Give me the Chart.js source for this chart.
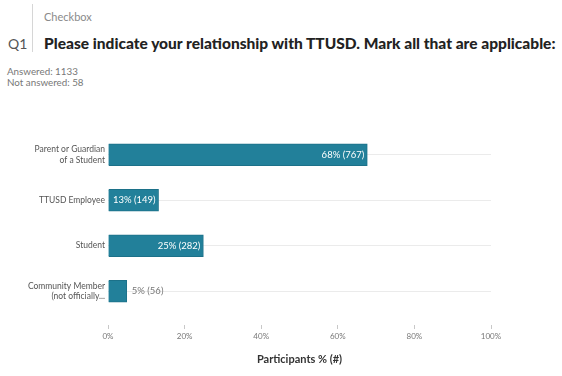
<!DOCTYPE html>
<html>
<head>
<meta charset="utf-8">
<script src="https://cdn.jsdelivr.net/npm/chart.js@4/dist/chart.umd.min.js"></script>
<style>
    body { margin: 0; width: 562px; height: 376px; background: #fff; font-family: Lato, sans-serif; position: relative; overflow: hidden; }
    .divider { position: absolute; left: 32px; top: 4px; width: 1px; height: 48px; background: #d6d6d6; }
    .kind { position: absolute; left: 44px; top: 10px; font-size: 11px; color: #8a8a8a; }
    .qnum { position: absolute; left: 8px; top: 35px; font-size: 14px; color: #555; }
    .title { position: absolute; left: 44px; top: 34px; font-size: 15.5px; font-weight: 900; color: #222; white-space: nowrap; }
    .stats { position: absolute; left: 7px; top: 66px; font-size: 9.8px; color: #777; line-height: 11px; }
    #chartWrap { position: absolute; left: 0; top: 100px; width: 562px; height: 276px; }
</style>
</head>
<body>
<div class="divider"></div>
<div class="kind">Checkbox</div>
<div class="qnum">Q1</div>
<div class="title">Please indicate your relationship with TTUSD. Mark all that are applicable:</div>
<div class="stats">Answered: 1133<br>Not answered: 58</div>
<div id="chartWrap"><canvas id="chart"></canvas></div>
<script>
const categories = [
    ["Parent or Guardian", "of a Student"],
    "TTUSD Employee",
    "Student",
    ["Community Member", "(not officially..."]
];
const percents = [67.7, 13.2, 24.9, 4.9];
const counts = [767, 149, 282, 56];
const percentLabels = ["68%", "13%", "25%", "5%"];
const tickLabels = ["0%", "20%", "40%", "60%", "80%", "100%"];

// value labels: inside the bar when they fit, outside otherwise
const barLabels = {
    id: "barLabels",
    afterDatasetsDraw(chart) {
        const ctx = chart.ctx;
        const meta = chart.getDatasetMeta(0);
        ctx.save();
        ctx.font = "9.5px Lato, sans-serif";
        ctx.textBaseline = "middle";
        meta.data.forEach((bar, i) => {
            const text = percentLabels[i] + " (" + counts[i] + ")";
            const w = ctx.measureText(text).width;
            const barWidth = bar.x - bar.base;
            if (w + 6 < barWidth) {
                ctx.fillStyle = "#ffffff";
                ctx.textAlign = "right";
                ctx.fillText(text, bar.x - 3, bar.y);
            } else {
                ctx.fillStyle = "#777";
                ctx.textAlign = "left";
                ctx.fillText(text, bar.x + 5, bar.y);
            }
        });
        ctx.restore();
    }
};

new Chart(document.getElementById("chart"), {
    type: "bar",
    data: {
        labels: categories,
        datasets: [{
            data: percents,
            backgroundColor: "#22809a",
            borderColor: "#1c7189",
            borderWidth: 1,
            barThickness: 22
        }]
    },
    options: {
        indexAxis: "y",
        responsive: true,
        maintainAspectRatio: false,
        animation: false,
        layout: { padding: { top: 32, right: 71, bottom: 10, left: 0 } },
        plugins: {
            legend: { display: false },
            tooltip: { enabled: false }
        },
        scales: {
            x: {
                min: 0,
                max: 100,
                afterBuildTicks: scale => {
                    scale.ticks = tickLabels.map((t, i) => ({ value: i * 20 }));
                },
                afterFit: scale => { scale.height = 52; },
                grid: {
                    drawOnChartArea: false,
                    tickLength: 15,
                    tickColor: "#c8c8c8",
                    tickBorderDash: [0, 11, 4, 0]
                },
                border: { display: false },
                ticks: {
                    padding: 3,
                    color: "#777",
                    font: { size: 8, family: "Lato" },
                    callback: (v, i) => tickLabels[i]
                },
                title: {
                    display: true,
                    text: "Participants % (#)",
                    color: "#333",
                    font: { size: 11, weight: "bold", family: "Lato" },
                    padding: { top: 4, bottom: 0 }
                }
            },
            y: {
                afterFit: scale => { scale.width = 108; },
                grid: {
                    offset: false,
                    color: "#ebebeb",
                    drawTicks: false
                },
                border: { display: false },
                ticks: {
                    padding: 3,
                    color: "#555",
                    font: { size: 8.5, family: "Lato" }
                }
            }
        }
    },
    plugins: [barLabels]
});
</script>
</body>
</html>
